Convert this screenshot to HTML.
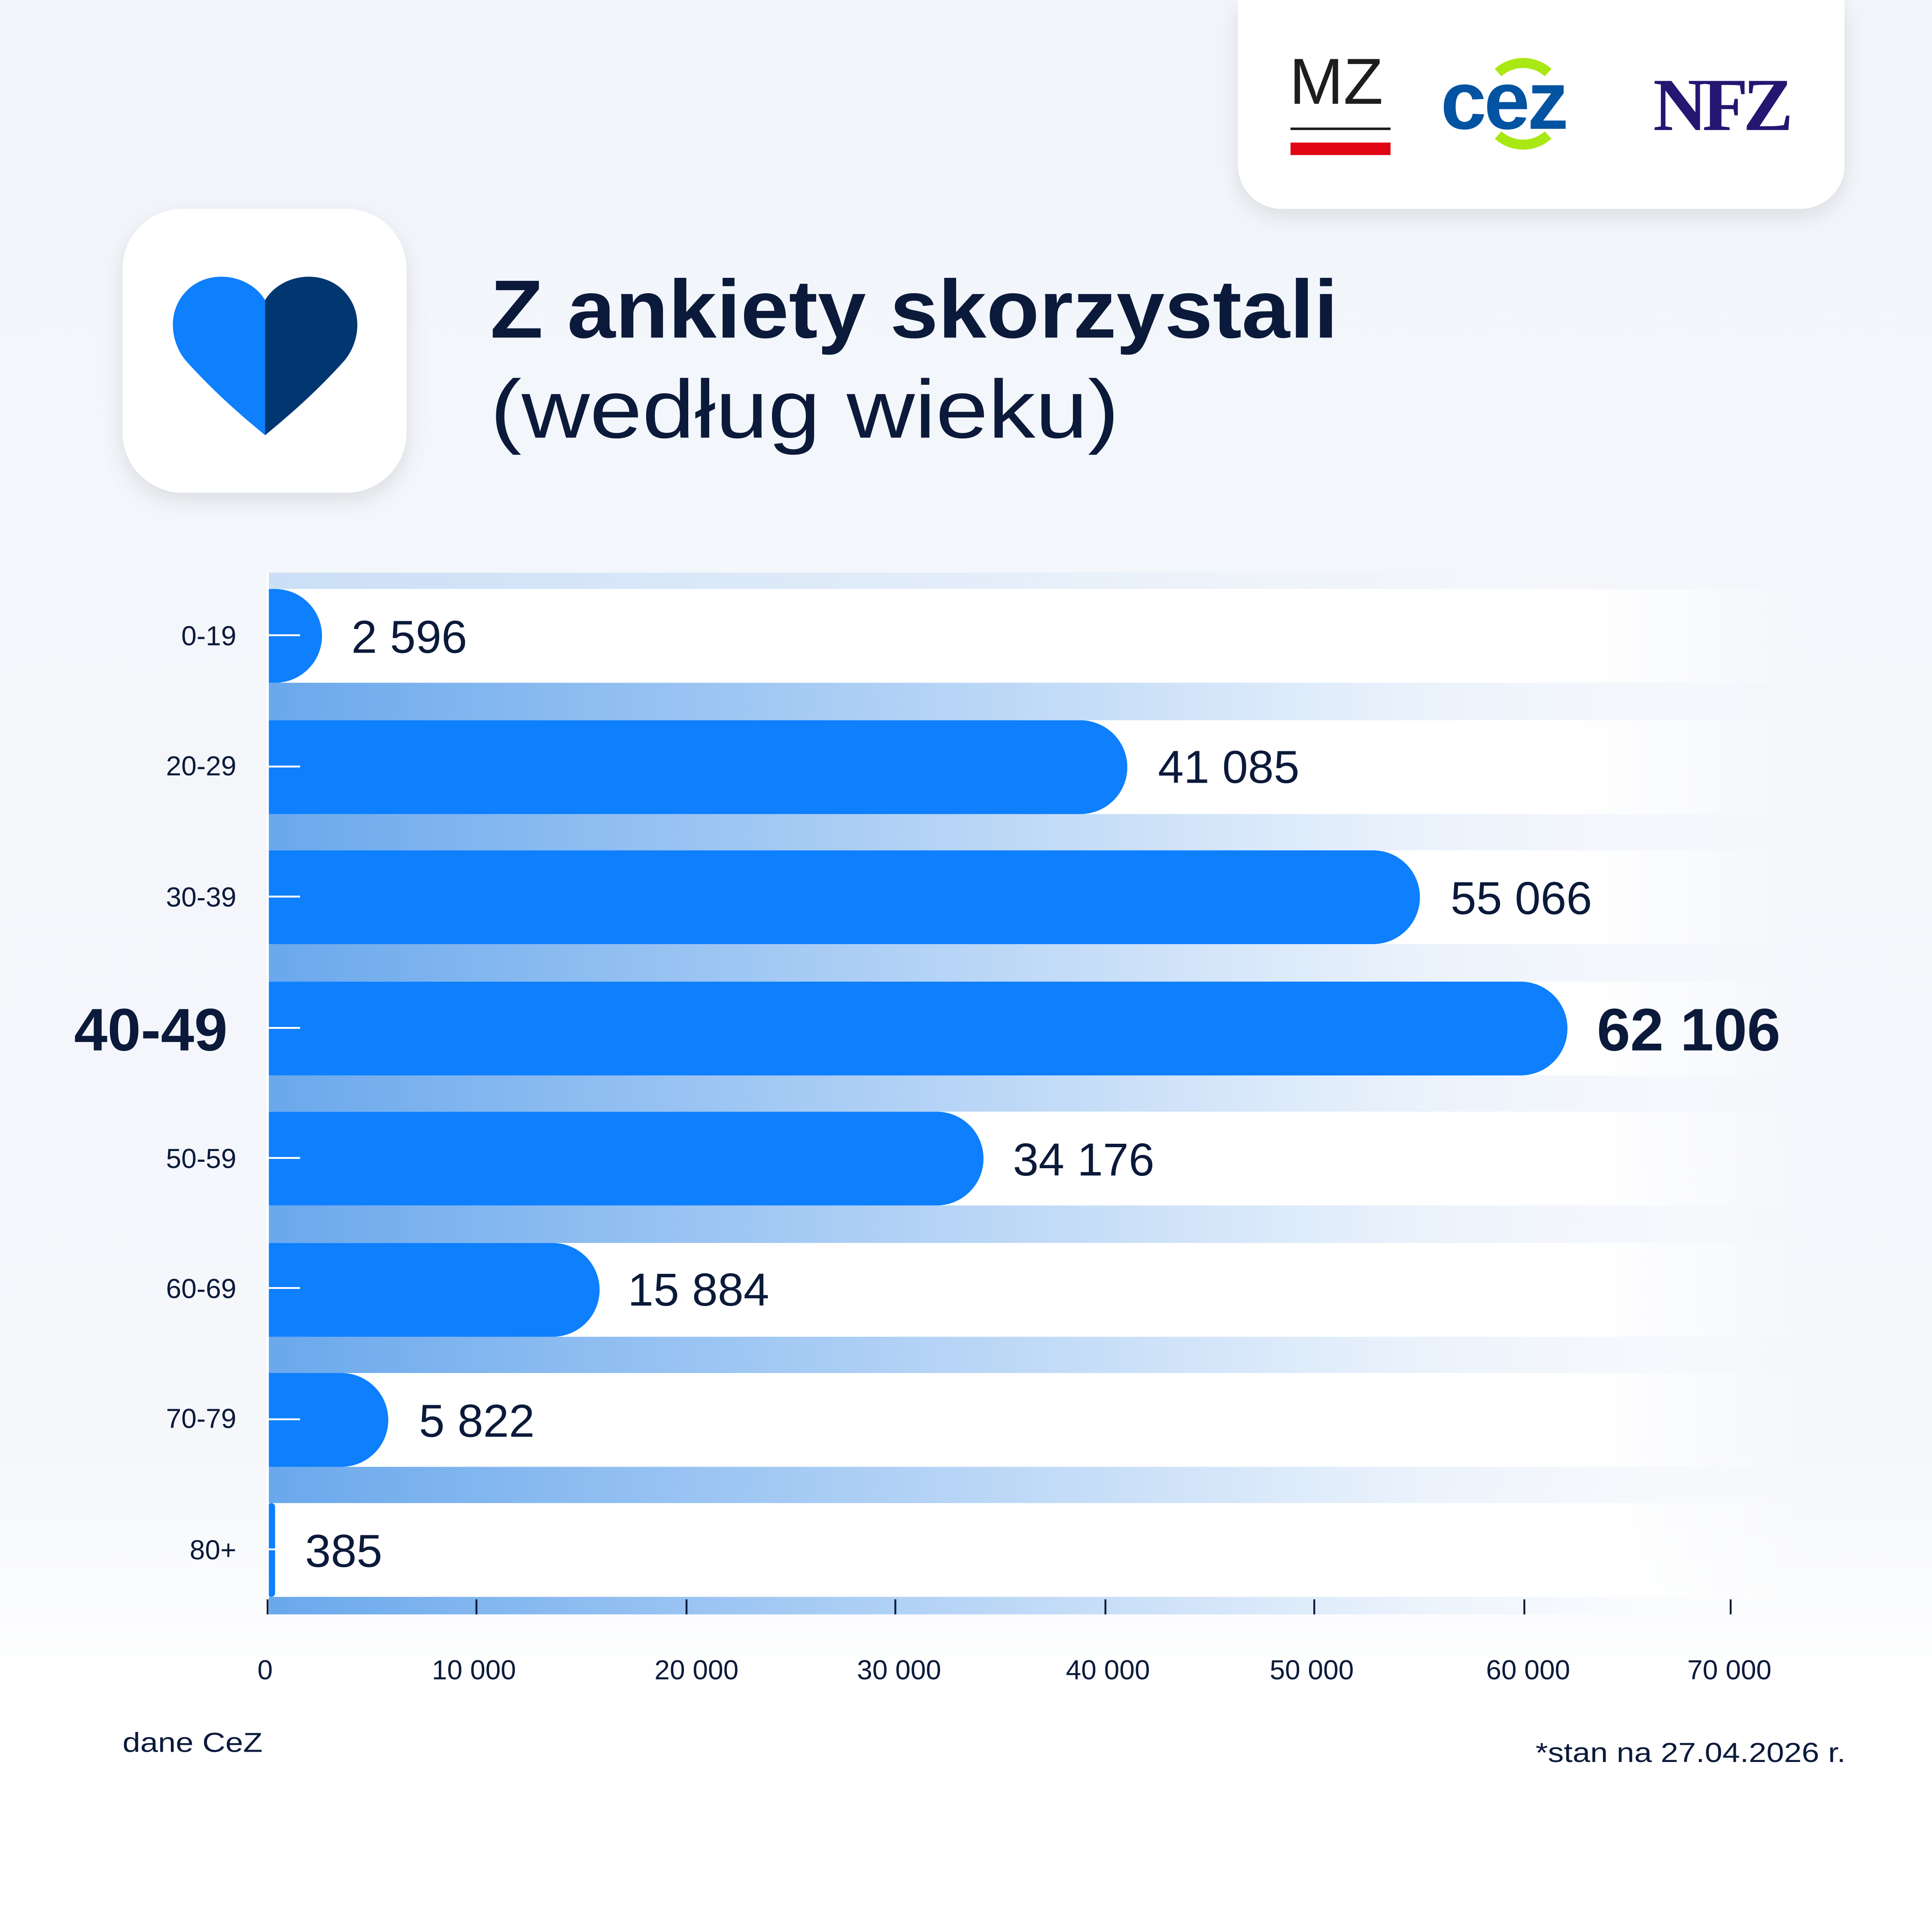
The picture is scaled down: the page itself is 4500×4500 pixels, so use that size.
<!DOCTYPE html>
<html><head><meta charset="utf-8"><style>html,body{margin:0;padding:0;background:#fff}svg{display:block}</style></head>
<body>
<svg xmlns="http://www.w3.org/2000/svg" width="4500" height="4500" viewBox="0 0 1545 1545" font-family="'Liberation Sans', sans-serif">
<defs>
<linearGradient id="bg" x1="0" y1="0" x2="0" y2="1"><stop offset="0" stop-color="#f2f5fa"/><stop offset="0.75" stop-color="#f5f7fb"/><stop offset="0.88" stop-color="#ffffff"/></linearGradient>
<linearGradient id="strip" x1="0" y1="0" x2="1" y2="0"><stop offset="0" stop-color="#6aa8ec"/><stop offset="0.35" stop-color="#a6cbf4"/><stop offset="0.7" stop-color="#e3eefb"/><stop offset="1" stop-color="#ffffff" stop-opacity="0"/></linearGradient>
<linearGradient id="row" x1="0" y1="0" x2="1" y2="0"><stop offset="0" stop-color="#ffffff"/><stop offset="0.85" stop-color="#ffffff"/><stop offset="1" stop-color="#ffffff" stop-opacity="0"/></linearGradient>
<filter id="sh" x="-20%" y="-20%" width="140%" height="150%"><feDropShadow dx="0" dy="6" stdDeviation="8" flood-color="#000" flood-opacity="0.10"/></filter>
</defs>
<rect width="1545" height="1545" fill="url(#bg)"/>
<path d="M990 0 H1475 V132 a35 35 0 0 1 -35 35 H1025 a35 35 0 0 1 -35 -35 Z" fill="#fff" filter="url(#sh)"/>
<text x="1031" y="83" font-size="52" fill="#1d1d1b">MZ</text>
<rect x="1032" y="102" width="80" height="2" fill="#1d1d1b"/>
<rect x="1032" y="114" width="80" height="10" fill="#e00614"/>
<path d="M1198 58 a30 30 0 0 1 40 0 M1198 108 a30 30 0 0 0 40 0" stroke="#a9e812" stroke-width="8" fill="none"/>
<text x="1152" y="103" font-size="66" font-weight="bold" fill="#0253a1" letter-spacing="-2">cez</text>
<text x="1322" y="104" font-size="60" font-weight="bold" font-family="'Liberation Serif', serif" fill="#251672" letter-spacing="-4">NFZ</text>
<rect x="98" y="167" width="227" height="227" rx="48" fill="#fff" filter="url(#sh)"/>
<path d="M212 240 C200 220 170 215 152 230 C132 247 136 275 150 290 C170 312 190 330 212 348 Z" fill="#0e7ffd"/>
<path d="M212 240 C224 220 254 215 272 230 C292 247 288 275 274 290 C254 312 234 330 212 348 Z" fill="#003771"/>
<text x="392" y="270" font-size="66" font-weight="bold" fill="#0b1a3a" textLength="678" lengthAdjust="spacingAndGlyphs">Z ankiety skorzystali</text>
<text x="392" y="350" font-size="66" fill="#0b1a3a" textLength="503" lengthAdjust="spacingAndGlyphs">(według wieku)</text>
<rect x="214" y="458" width="1130" height="13" fill="url(#strip)" opacity="0.3"/>
<g>
<rect x="214" y="471" width="1230" height="75" fill="url(#row)"/>
<rect x="214" y="546" width="1230" height="30" fill="url(#strip)"/>
<rect x="214" y="576" width="1230" height="75" fill="url(#row)"/>
<rect x="214" y="651" width="1230" height="29" fill="url(#strip)"/>
<rect x="214" y="680" width="1230" height="75" fill="url(#row)"/>
<rect x="214" y="755" width="1230" height="30" fill="url(#strip)"/>
<rect x="214" y="785" width="1230" height="75" fill="url(#row)"/>
<rect x="214" y="860" width="1230" height="29" fill="url(#strip)"/>
<rect x="214" y="889" width="1230" height="75" fill="url(#row)"/>
<rect x="214" y="964" width="1230" height="30" fill="url(#strip)"/>
<rect x="214" y="994" width="1230" height="75" fill="url(#row)"/>
<rect x="214" y="1069" width="1230" height="29" fill="url(#strip)"/>
<rect x="214" y="1098" width="1230" height="75" fill="url(#row)"/>
<rect x="214" y="1173" width="1230" height="29" fill="url(#strip)"/>
<rect x="214" y="1202" width="1230" height="75" fill="url(#row)"/>
<rect x="214" y="1277" width="1230" height="14" fill="url(#strip)"/>
</g>
<g fill="#0e7ffd">
<path d="M214 471 H220 a37.5 37.5 0 0 1 0 75 H214 Z"/>
<path d="M214 576 H864 a37.5 37.5 0 0 1 0 75 H214 Z"/>
<path d="M214 680 H1098 a37.5 37.5 0 0 1 0 75 H214 Z"/>
<path d="M214 785 H1216 a37.5 37.5 0 0 1 0 75 H214 Z"/>
<path d="M214 889 H749 a37.5 37.5 0 0 1 0 75 H214 Z"/>
<path d="M214 994 H442 a37.5 37.5 0 0 1 0 75 H214 Z"/>
<path d="M214 1098 H273 a37.5 37.5 0 0 1 0 75 H214 Z"/>
<rect x="214" y="1202" width="6" height="75" rx="3"/>
</g>
<rect x="213" y="458" width="2" height="833" fill="#fff"/>
<g stroke="#fff" stroke-width="1.5">
<line x1="214" y1="508" x2="240" y2="508"/><line x1="214" y1="613" x2="240" y2="613"/><line x1="214" y1="717" x2="240" y2="717"/><line x1="214" y1="822" x2="240" y2="822"/><line x1="214" y1="926" x2="240" y2="926"/><line x1="214" y1="1030" x2="240" y2="1030"/><line x1="214" y1="1135" x2="240" y2="1135"/><line x1="214" y1="1239" x2="240" y2="1239"/>
</g>
<g font-size="22" fill="#0b1a3a" text-anchor="end">
<text x="189" y="516">0-19</text><text x="189" y="620">20-29</text><text x="189" y="725">30-39</text>
<text x="182" y="840" font-size="48" font-weight="bold">40-49</text>
<text x="189" y="934">50-59</text><text x="189" y="1038">60-69</text><text x="189" y="1142">70-79</text><text x="189" y="1247">80+</text>
</g>
<g font-size="37" fill="#0b1a3a">
<text x="281" y="522">2 596</text><text x="926" y="626">41 085</text><text x="1160" y="731">55 066</text>
<text x="1277" y="840" font-size="48" font-weight="bold">62 106</text>
<text x="810" y="940">34 176</text><text x="502" y="1044">15 884</text><text x="335" y="1149">5 822</text><text x="244" y="1253">385</text>
</g>
<g stroke="#0b1a3a" stroke-width="1.5">
<line x1="214" y1="1279" x2="214" y2="1291"/><line x1="381" y1="1279" x2="381" y2="1291"/><line x1="549" y1="1279" x2="549" y2="1291"/><line x1="716" y1="1279" x2="716" y2="1291"/><line x1="884" y1="1279" x2="884" y2="1291"/><line x1="1051" y1="1279" x2="1051" y2="1291"/><line x1="1219" y1="1279" x2="1219" y2="1291"/><line x1="1384" y1="1279" x2="1384" y2="1291"/>
</g>
<g font-size="22" fill="#0b1a3a" text-anchor="middle">
<text x="212" y="1343">0</text><text x="379" y="1343">10 000</text><text x="557" y="1343">20 000</text><text x="719" y="1343">30 000</text><text x="886" y="1343">40 000</text><text x="1049" y="1343">50 000</text><text x="1222" y="1343">60 000</text><text x="1383" y="1343">70 000</text>
</g>
<text x="98" y="1401" font-size="22" fill="#0b1a3a" textLength="112" lengthAdjust="spacingAndGlyphs">dane CeZ</text>
<text x="1228" y="1409" font-size="22" fill="#0b1a3a" textLength="248" lengthAdjust="spacingAndGlyphs">*stan na 27.04.2026 r.</text>
</svg>
</body></html>
